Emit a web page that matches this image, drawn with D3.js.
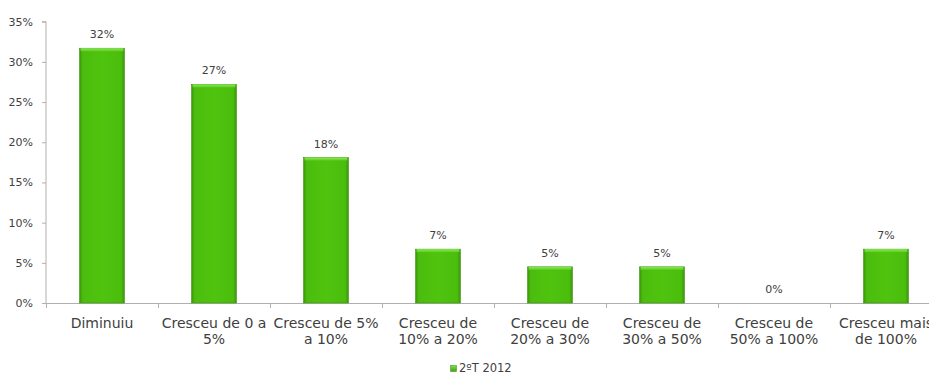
<!DOCTYPE html>
<html><head><meta charset="utf-8">
<script src="https://cdn.jsdelivr.net/npm/d3@7"></script>
<style>body{margin:0;background:#fff}svg{display:block}</style>
</head><body>
<svg id="c" width="929" height="374"></svg>
<script>
const categories = [["Diminuiu"],["Cresceu de 0 a","5%"],["Cresceu de 5%","a 10%"],["Cresceu de","10% a 20%"],["Cresceu de","20% a 30%"],["Cresceu de","30% a 50%"],["Cresceu de","50% a 100%"],["Cresceu mais","de 100%"]];
const values = [0.317, 0.272, 0.181, 0.067, 0.045, 0.045, 0.0, 0.067];
const valueLabels = ["32%","27%","18%","7%","5%","5%","0%","7%"];
const yTicks = [0,0.05,0.10,0.15,0.20,0.25,0.30,0.35];
const seriesName = "2ºT 2012";

const svg = d3.select("#c");
const font = "'DejaVu Sans', Verdana, sans-serif";
const left = 46, right = 942, y0 = 303, yTop = 21.7;
const x = d3.scaleBand().domain(d3.range(categories.length)).range([left, right]).paddingInner(0.6).paddingOuter(0.3);
const y = d3.scaleLinear().domain([0, 0.35]).range([y0, yTop]);
const data = values.map((v,i)=>({v,i,label:valueLabels[i]}));

const defs = svg.append("defs");
const g1 = defs.append("linearGradient").attr("id","barG").attr("x1","0").attr("x2","1").attr("y1","0").attr("y2","0");
[[0,"#3a960a"],[0.07,"#4bbd0d"],[0.5,"#4fc40e"],[0.93,"#4bbd0d"],[1,"#3a960a"]].forEach(([o,c])=>g1.append("stop").attr("offset",o).attr("stop-color",c));
const g2 = defs.append("linearGradient").attr("id","topG").attr("x1","0").attr("x2","0").attr("y1","0").attr("y2","1");
[[0,"#8be65a"],[1,"#5ccf1c"]].forEach(([o,c])=>g2.append("stop").attr("offset",o).attr("stop-color",c));
const g3 = defs.append("linearGradient").attr("id","legG").attr("x1","0").attr("x2","0").attr("y1","0").attr("y2","1");
[[0,"#7ee04a"],[1,"#3fa00b"]].forEach(([o,c])=>g3.append("stop").attr("offset",o).attr("stop-color",c));

// y axis
const yAxis = d3.axisLeft(y).tickValues(yTicks).tickFormat(d3.format(".0%")).tickSize(4).tickPadding(9);
const ya = svg.append("g").attr("transform",`translate(${left},0)`).call(yAxis);
ya.select(".domain").attr("stroke","#b0b0b0").attr("d",`M-4,${yTop}H0V${y0}`);
ya.selectAll(".tick line").attr("stroke","#b0b0b0");
ya.selectAll(".tick text").attr("font-family",font).attr("font-size",11).attr("fill","#404040");

// x axis line and ticks
svg.append("line").attr("x1",left).attr("x2",929).attr("y1",y0+0.5).attr("y2",y0+0.5).attr("stroke","#b0b0b0");
const step = x.step();
svg.selectAll("line.xt").data(d3.range(categories.length+1)).join("line").attr("class","xt")
  .attr("x1",i=>left + i*step + 0.5).attr("x2",i=>left + i*step + 0.5)
  .attr("y1",y0).attr("y2",y0+5).attr("stroke","#b0b0b0");

// bars
const nz = data.filter(d=>d.v>0);
svg.selectAll("rect.bar").data(nz).join("rect").attr("class","bar")
  .attr("x",d=>x(d.i)).attr("width",x.bandwidth())
  .attr("y",d=>y(d.v)).attr("height",d=>y0 - y(d.v))
  .attr("fill","url(#barG)").attr("stroke","#3a8f0a").attr("stroke-width",0.6);
svg.selectAll("rect.bartop").data(nz).join("rect").attr("class","bartop")
  .attr("x",d=>x(d.i)+1).attr("width",x.bandwidth()-2)
  .attr("y",d=>y(d.v)).attr("height",3)
  .attr("fill","url(#topG)");

// value labels
svg.selectAll("text.vl").data(data).join("text").attr("class","vl")
  .attr("x",d=>x(d.i)+x.bandwidth()/2).attr("y",d=>y(d.v)-10)
  .attr("text-anchor","middle").attr("font-family",font).attr("font-size",11).attr("fill","#404040")
  .text(d=>d.label);

// category labels
const cl = svg.selectAll("text.cl").data(categories).join("text").attr("class","cl")
  .attr("text-anchor","middle").attr("font-family",font).attr("font-size",14).attr("fill","#404040");
cl.selectAll("tspan").data((d,i)=>d.map(t=>({t,i}))).join("tspan")
  .attr("x",d=>x(d.i)+x.bandwidth()/2).attr("y",(d,j)=>328+j*16).text(d=>d.t);

// legend
svg.append("rect").attr("x",450.5).attr("y",365.5).attr("width",6).attr("height",6).attr("fill","url(#legG)").attr("stroke","#3a8f0a").attr("stroke-width",0.5);
svg.append("text").attr("x",459).attr("y",372).attr("font-family",font).attr("font-size",11.5).attr("fill","#404040").text(seriesName);
</script>
</body></html>
